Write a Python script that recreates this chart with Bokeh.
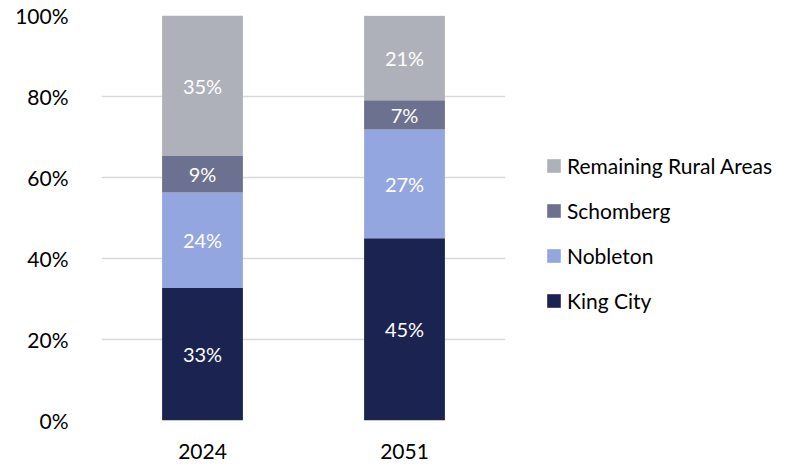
from bokeh.plotting import figure
from bokeh.models import (ColumnDataSource, FactorRange, FixedTicker, NumeralTickFormatter,
                          Legend, LegendItem, LabelSet)
from bokeh.core.properties import value
from bokeh.embed import file_html
from bokeh.resources import INLINE

years = ["2024", "2051"]
series = ["King City", "Nobleton", "Schomberg", "Remaining Rural Areas"]
king_city = [0.327, 0.450]
nobleton = [0.236, 0.2685]
schomberg = [0.090, 0.072]
remaining = [0.347, 0.209]
colors = ["#1B2350", "#94A6E0", "#6D7190", "#AFB1BA"]
y_ticks = [0, 0.2, 0.4, 0.6, 0.8, 1.0]

FONT = "Lato"

data = {"year": years, "King City": king_city, "Nobleton": nobleton,
        "Schomberg": schomberg, "Remaining Rural Areas": remaining}
source = ColumnDataSource(data)

p = figure(x_range=FactorRange(*years, range_padding=0), y_range=(0, 1),
           frame_width=404, frame_height=405, output_backend="svg", toolbar_location=None,
           min_border_left=101, min_border_right=0, min_border_top=15, min_border_bottom=45)

renderers = p.vbar_stack(series, x="year", width=0.4, color=colors, line_color=None, source=source)

# data labels
lx, ly, lt = [], [], []
for i, yr in enumerate(years):
    base = 0.0
    for s in series:
        v = data[s][i]
        lx.append(yr)
        ly.append(base + v / 2)
        lt.append(f"{round(v * 100)}%")
        base += v
lsrc = ColumnDataSource(dict(x=lx, y=ly, t=lt))
labels = LabelSet(x="x", y="y", text="t", source=lsrc, text_color="white",
                  text_font=value(FONT), text_font_size="20px", text_align="center",
                  text_baseline="middle")
p.add_layout(labels)

# axes
p.yaxis.ticker = FixedTicker(ticks=y_ticks)
p.yaxis.formatter = NumeralTickFormatter(format="0%")
for ax in (p.xaxis, p.yaxis):
    ax.axis_line_color = None
    ax.major_tick_line_color = None
    ax.minor_tick_line_color = None
    ax.major_label_text_font = FONT
    ax.major_label_text_font_size = "21px"
    ax.major_label_text_color = "#000000"
p.yaxis.major_label_standoff = 27
p.xaxis.major_label_standoff = 17

p.xgrid.grid_line_color = None
p.ygrid.grid_line_color = "#D9D9D9"
p.ygrid.grid_line_width = 1.5
p.outline_line_color = None

items = [LegendItem(label=s, renderers=[r]) for s, r in zip(series, renderers)][::-1]
legend = Legend(items=items, location=(40, 107), orientation="vertical",
                label_text_font=FONT, label_text_font_size="21px", label_text_color="#000000",
                glyph_width=17, glyph_height=17, label_height=20, spacing=20,
                label_standoff=5, padding=0, margin=0, border_line_color=None,
                background_fill_alpha=0)
p.add_layout(legend, "right")

open("out.html", "w").write(file_html(p, INLINE))
